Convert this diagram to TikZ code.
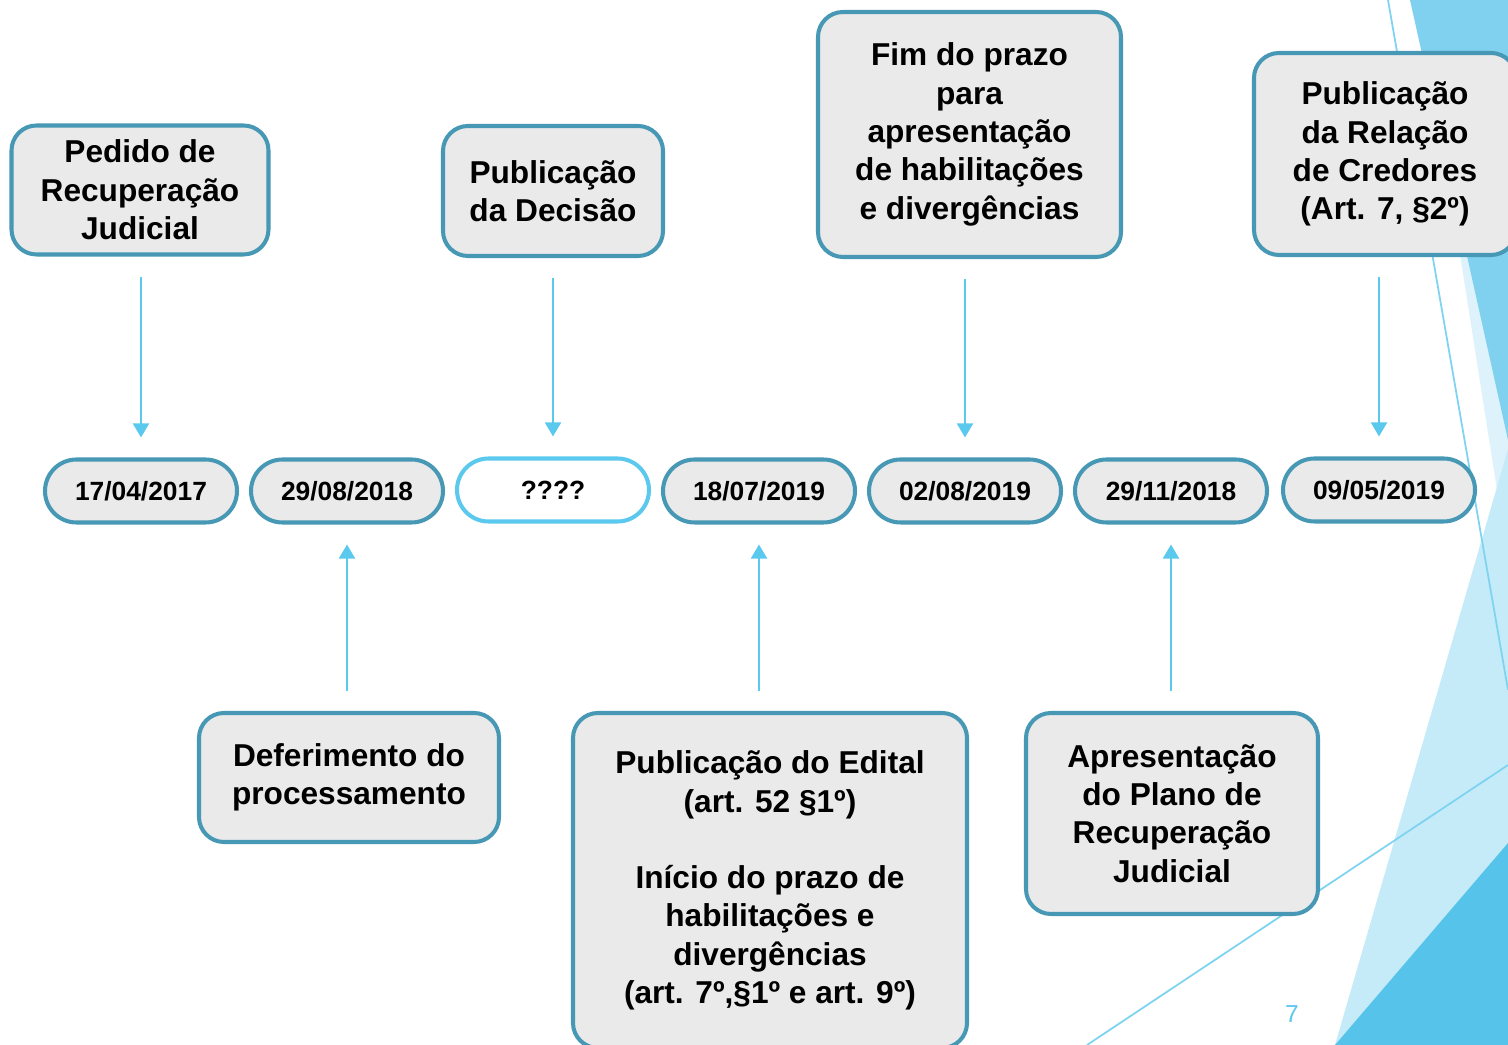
\documentclass[tikz,border=0pt]{standalone}
\usepackage{fontspec}
\setmainfont{Liberation Sans}
\usetikzlibrary{arrows.meta,shapes.misc}
\definecolor{boxline}{RGB}{70,152,180}
\definecolor{boxfill}{RGB}{234,234,234}
\definecolor{arrblue}{RGB}{91,200,238}
\definecolor{facetA}{RGB}{221,242,251}
\definecolor{facetB}{RGB}{127,209,239}
\definecolor{facetC}{RGB}{197,235,248}
\definecolor{facetD}{RGB}{86,196,234}
\definecolor{facetline}{RGB}{125,211,240}

\begin{document}
\begin{tikzpicture}[
  box/.style={rectangle,rounded corners=0.5cm,draw=boxline,line width=2.3pt,fill=boxfill,
    align=center,inner sep=0pt,font=\fontsize{18}{21.8}\selectfont\bfseries},
  datebox/.style={rounded rectangle,draw=boxline,line width=2.3pt,fill=boxfill,inner sep=0pt,
    minimum width=3.84cm,minimum height=1.26cm,font=\fontsize{15}{18}\selectfont\bfseries},
  arr/.style={draw=arrblue,line width=1.1pt,-{Triangle[width=0.32cm,length=0.28cm]},
    shorten <=0.4cm,shorten >=0.4cm}
]
  \useasboundingbox (0,0) rectangle (30.16,20.9);

  % facet background
  \fill[facetA] (28.4,20.9) -- (30.16,20.9) -- (30.16,9.7) -- cycle;
  \fill[facetB] (28.2,20.9) -- (30.16,20.9) -- (30.16,12.1) -- cycle;
  \fill[facetC] (30.16,11.92) -- (26.7,0) -- (30.16,0) -- cycle;
  \fill[facetD] (30.16,4.04) -- (26.7,0) -- (30.16,0) -- cycle;
  \draw[facetline,line width=1pt] (27.76,20.9) -- (30.16,7.1);
  \draw[facetline,line width=1pt] (21.74,0) -- (30.16,5.6);

  \node[box,minimum width=5.14cm,minimum height=2.58cm] (pedido) at (2.8,17.1) {Pedido de\\Recuperação\\Judicial};
  \node[box,minimum width=4.4cm,minimum height=2.6cm] (decisao) at (11.06,17.08) {Publicação\\da Decisão};
  \node[box,minimum width=6.06cm,minimum height=4.9cm] (prazo) at (19.39,18.21) {Fim do prazo\\para\\apresentação\\de habilitações\\e divergências};
  \node[box,minimum width=5.24cm,minimum height=4.04cm] (relacao) at (27.7,17.82) {Publicação\\da Relação\\de Credores\\(Art. 7, §2º)};

  \node[datebox] (d1) at (2.82,11.08) {17/04/2017};
  \node[datebox] (d2) at (6.94,11.08) {29/08/2018};
  \node[datebox,fill=white,draw=arrblue] (d3) at (11.06,11.1) {????};
  \node[datebox] (d4) at (15.18,11.08) {18/07/2019};
  \node[datebox] (d5) at (19.3,11.08) {02/08/2019};
  \node[datebox] (d6) at (23.42,11.08) {29/11/2018};
  \node[datebox] (d7) at (27.58,11.1) {09/05/2019};

  \node[box,minimum width=6cm,minimum height=2.58cm] (deferimento) at (6.98,5.35) {Deferimento do\\processamento};
  \node[box,minimum width=7.88cm,minimum height=6.7cm] (edital) at (15.4,3.29) {Publicação do Edital\\(art. 52 §1º)\\[21.8pt]Início do prazo de\\habilitações e\\divergências\\(art. 7º,§1º e art. 9º)};
  \node[box,minimum width=5.84cm,minimum height=4.02cm] (plano) at (23.44,4.63) {Apresentação\\do Plano de\\Recuperação\\Judicial};

  \draw[arr] (pedido.south -| d1) -- (d1.north);
  \draw[arr] (decisao.south -| d3) -- (d3.north);
  \draw[arr] (prazo.south -| d5) -- (d5.north);
  \draw[arr] (relacao.south -| d7) -- (d7.north);
  \draw[arr] (deferimento.north -| d2) -- (d2.south);
  \draw[arr] (edital.north -| d4) -- (d4.south);
  \draw[arr] (plano.north -| d6) -- (d6.south);

  \node[text=arrblue,font=\fontsize{14}{16}\selectfont] (page) at (25.84,0.62) {7};
\end{tikzpicture}
\end{document}
